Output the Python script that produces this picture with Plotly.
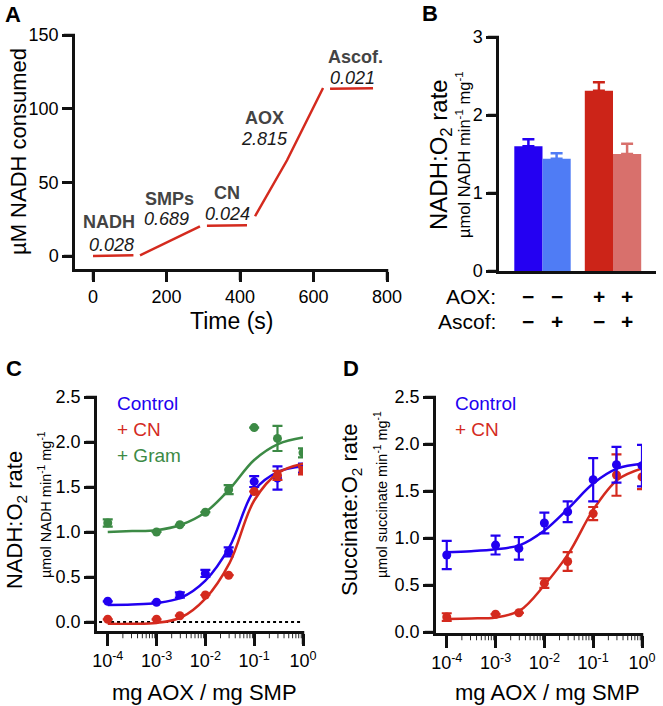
import math
import plotly.graph_objects as go

W, H = 663, 706
FONT = "Liberation Sans, Arial, sans-serif"

# ---------------- Panel A data ----------------
time_s = [0, 55, 110, None, 128, 210, 291, None, 310, 365, 419, None,
          441, 528, 626, None, 645, 700, 762]
nadh_consumed = [0.0, 0.2, 0.6, None, 0.5, 10.5, 20.2, None, 20.5, 20.8, 20.9, None,
                 27.0, 65.0, 114.0, None, 113.5, 113.8, 113.8]
step_names = ["NADH", "SMPs", "CN", "AOX", "Ascof."]
step_rates = ["0.028", "0.689", "0.024", "2.815", "0.021"]
a_xticks = [0, 200, 400, 600, 800]
a_yticks = [0, 50, 100, 150]

# ---------------- Panel B data ----------------
b_categories = ["AOX −", "AOX +"]
b_ascof_minus = [1.60, 2.31]
b_ascof_minus_err = [0.09, 0.11]
b_ascof_plus = [1.44, 1.50]
b_ascof_plus_err = [0.07, 0.13]
b_aox_signs = ["−", "−", "+", "+"]
b_ascof_signs = ["−", "+", "−", "+"]
b_yticks = [0, 1, 2, 3]

# ---------------- Panel C data ----------------
dose = [1e-4, 1e-3, 3e-3, 1e-2, 3e-2, 1e-1, 3e-1, 1.0]
c_control = [0.23, 0.22, 0.30, 0.54, 0.78, 1.56, 1.60, 1.71]
c_control_err = [0.0, 0.0, 0.03, 0.04, 0.05, 0.06, 0.13, 0.05]
c_cn = [0.03, 0.03, 0.07, 0.30, 0.52, 1.45, 1.63, 1.68]
c_cn_err = [0.0, 0.0, 0.0, 0.0, 0.0, 0.0, 0.05, 0.04]
c_gram = [1.10, 1.00, 1.08, 1.22, 1.47, 2.16, 2.04, 1.88]
c_gram_err = [0.04, 0.0, 0.0, 0.0, 0.05, 0.0, 0.14, 0.05]

fit_dose = [1e-4, 3.16e-4, 1e-3, 3.16e-3, 1e-2, 3.16e-2, 1e-1, 3.16e-1, 1.0]
c_control_fit = [0.19, 0.195, 0.21, 0.27, 0.46, 0.84, 1.46, 1.67, 1.73]
c_cn_fit = [-0.02, -0.02, -0.01, 0.05, 0.26, 0.66, 1.35, 1.66, 1.76]
c_gram_fit = [1.00, 1.01, 1.02, 1.08, 1.22, 1.48, 1.80, 1.98, 2.05]

# ---------------- Panel D data ----------------
d_control = [0.82, 0.925, 0.89, 1.16, 1.28, 1.62, 1.78, 1.77]
d_control_err = [0.15, 0.10, 0.12, 0.11, 0.11, 0.23, 0.19, 0.22]
d_cn = [0.16, 0.19, 0.205, 0.52, 0.75, 1.26, 1.67, 1.65]
d_cn_err = [0.04, 0.0, 0.0, 0.05, 0.10, 0.07, 0.22, 0.13]
d_control_fit = [0.85, 0.86, 0.88, 0.925, 1.08, 1.32, 1.58, 1.74, 1.79]
d_cn_fit = [0.14, 0.145, 0.155, 0.23, 0.50, 0.84, 1.30, 1.62, 1.74]

log_ticks = [1e-4, 1e-3, 1e-2, 1e-1, 1]
log_ticktext = ["10<sup>-4</sup>", "10<sup>-3</sup>", "10<sup>-2</sup>", "10<sup>-1</sup>", "10<sup>0</sup>"]
log_minor_ticks = [m * 10.0 ** e for e in range(-4, 0) for m in range(2, 10)]
rate_yticks = [0, 0.5, 1.0, 1.5, 2.0, 2.5]

BLUE = "#2200F0"
RED = "#D42A1E"
GREEN = "#3C8A45"
BAR_COLORS_MINUS = ["#2400F2", "#CC2418"]
BAR_COLORS_PLUS = ["#4F7CF5", "#D8706C"]
INK = "#111111"
LW = 2.5  # axis line thickness (px)

RANGE_A_X = [-49, 800]
RANGE_A_Y = [-8.8, 150]
RANGE_B_Y = [0, 3]
RANGE_LOG_X = [-4.22, 0]
RANGE_C_Y = [-0.1, 2.5]
RANGE_D_Y = [-0.01, 2.5]


def px(x):
    return x / W


def py(y):
    return 1 - y / H


fig = go.Figure()

fig.add_trace(go.Scatter(x=time_s, y=nadh_consumed, mode="lines", connectgaps=False,
                         line=dict(color=RED, width=2.5), xaxis="x", yaxis="y",
                         showlegend=False))

for group, vals, errs, cols in [("minus", b_ascof_minus, b_ascof_minus_err, BAR_COLORS_MINUS),
                                ("plus", b_ascof_plus, b_ascof_plus_err, BAR_COLORS_PLUS)]:
    for cat, v, e, c in zip(b_categories, vals, errs, cols):
        fig.add_trace(go.Bar(x=[cat], y=[v], offsetgroup=group,
                             marker=dict(color=c, line=dict(width=0)),
                             error_y=dict(type="data", symmetric=False, array=[e], arrayminus=[0],
                                          color=c, thickness=2.5, width=6),
                             xaxis="x2", yaxis="y2", showlegend=False))


def add_dose(xa, ya, y, err, fit, color):
    fig.add_trace(go.Scatter(x=fit_dose, y=fit, mode="lines", line=dict(color=color, width=2.5, shape="spline"),
                             xaxis=xa, yaxis=ya, showlegend=False))
    fig.add_trace(go.Scatter(x=dose, y=y, mode="markers",
                             marker=dict(color=color, size=9),
                             error_y=dict(type="data", array=err, color=color, thickness=2.2, width=5),
                             xaxis=xa, yaxis=ya, showlegend=False))


add_dose("x3", "y3", c_gram, c_gram_err, c_gram_fit, GREEN)
add_dose("x3", "y3", c_control, c_control_err, c_control_fit, BLUE)
add_dose("x3", "y3", c_cn, c_cn_err, c_cn_fit, RED)

add_dose("x4", "y4", d_cn, d_cn_err, d_cn_fit, RED)
add_dose("x4", "y4", d_control, d_control_err, d_control_fit, BLUE)

axis_common = dict(showline=True, linecolor=INK, linewidth=LW, ticks="outside",
                   tickcolor=INK, tickwidth=2.5, ticklen=10, showgrid=False, zeroline=False,
                   tickfont=dict(family=FONT, size=18, color="black"))

log_axis = dict(axis_common, type="log", tickmode="array", tickvals=log_ticks, ticktext=log_ticktext,
                ticklen=12)

BOX_A = (75, 35, 387, 269)
BOX_B = (499, 37, 656, 271)
BOX_C = (97, 397, 303, 631)
BOX_D = (436, 397, 642, 633)


def dom(box):
    l, t, r, b = box
    return [px(l), px(r)], [py(b), py(t)]


fig.update_layout(
    template="none",
    width=W, height=H, margin=dict(l=0, r=0, t=0, b=0, pad=0),
    paper_bgcolor="white", plot_bgcolor="white",
    font=dict(family=FONT, color="black"),
    barmode="group", bargap=0.2, bargroupgap=0,
    xaxis=dict(axis_common, domain=dom(BOX_A)[0], range=RANGE_A_X, anchor="y",
               tickmode="array", tickvals=a_xticks),
    yaxis=dict(axis_common, domain=dom(BOX_A)[1], range=RANGE_A_Y, anchor="x",
               tickmode="array", tickvals=a_yticks),
    xaxis2=dict(axis_common, domain=dom(BOX_B)[0], range=[-0.617, 1.61], anchor="y2",
                type="category", ticks="", showticklabels=False),
    yaxis2=dict(axis_common, domain=dom(BOX_B)[1], range=RANGE_B_Y, anchor="x2",
                tickmode="array", tickvals=b_yticks),
    xaxis3=dict(log_axis, domain=dom(BOX_C)[0], range=RANGE_LOG_X, anchor="y3"),
    yaxis3=dict(axis_common, domain=dom(BOX_C)[1], range=RANGE_C_Y, anchor="x3",
                tickmode="array", tickvals=rate_yticks, tickformat=".1f"),
    xaxis4=dict(log_axis, domain=dom(BOX_D)[0], range=RANGE_LOG_X, anchor="y4"),
    yaxis4=dict(axis_common, domain=dom(BOX_D)[1], range=RANGE_D_Y, anchor="x4",
                tickmode="array", tickvals=rate_yticks, tickformat=".1f"),
)

fig.add_shape(type="line", xref="x3 domain", yref="y3", x0=0.01, x1=1, y0=0, y1=0,
              line=dict(color="black", width=2, dash="dot"), layer="below")


# axis lines drawn as thin filled rectangles
def axis_lines(xa, ya, box):
    l, t, r, b = box
    hgt = b - t
    fig.add_shape(type="rect", xref=f"{xa} domain", yref=f"{ya} domain",
                  x0=0, x1=1, ysizemode="pixel", yanchor=0, y0=0, y1=-LW,
                  fillcolor=INK, line=dict(width=0), layer="below")
    fig.add_shape(type="rect", xref=f"{xa} domain", yref=f"{ya} domain",
                  xsizemode="pixel", xanchor=0, x0=0, x1=-LW, y0=-LW / hgt, y1=1,
                  fillcolor=INK, line=dict(width=0), layer="below")


axis_lines("x", "y", BOX_A)
axis_lines("x2", "y2", BOX_B)
axis_lines("x3", "y3", BOX_C)
axis_lines("x4", "y4", BOX_D)


def _ref(axis, val, rng, log):
    pos = math.log10(val) if log else val
    if abs(pos - rng[1]) < 1e-9:
        return f"{axis} domain", 1
    if abs(pos - rng[0]) < 1e-9:
        return f"{axis} domain", 0
    return axis, val


def xtick(xa, ya, val, rng, length, width, log=False):
    ref, x = _ref(xa, val, rng, log)
    fig.add_shape(type="rect", xref=ref, xsizemode="pixel", xanchor=x, x0=-width / 2, x1=width / 2,
                  yref=f"{ya} domain", ysizemode="pixel", yanchor=0, y0=0, y1=-(length + LW / 2),
                  fillcolor=INK, line=dict(width=0), layer="below")


def ytick(xa, ya, val, rng, length, width):
    ref, y = _ref(ya, val, rng, False)
    fig.add_shape(type="rect", yref=ref, ysizemode="pixel", yanchor=y, y0=-width / 2, y1=width / 2,
                  xref=f"{xa} domain", xsizemode="pixel", xanchor=0, x0=0, x1=-(length + LW / 2),
                  fillcolor=INK, line=dict(width=0), layer="below")


for v in a_xticks:
    xtick("x", "y", v, RANGE_A_X, 10, 2.5)
for v in a_yticks:
    ytick("x", "y", v, RANGE_A_Y, 10, 2.5)
for v in b_yticks:
    ytick("x2", "y2", v, RANGE_B_Y, 10, 2.5)
for xa, ya, yr in [("x3", "y3", RANGE_C_Y), ("x4", "y4", RANGE_D_Y)]:
    for v in log_ticks:
        xtick(xa, ya, v, RANGE_LOG_X, 12, 2.5, log=True)
    for v in log_minor_ticks:
        xtick(xa, ya, v, RANGE_LOG_X, 6, 1.8, log=True)
    for v in rate_yticks:
        ytick(xa, ya, v, yr, 10, 2.5)

ann = []


def text(x, y, t, size, bold=False, italic=False, color="black", angle=0, xanchor="center"):
    s = t
    if bold:
        s = "<b>" + s + "</b>"
    if italic:
        s = "<i>" + s + "</i>"
    ann.append(dict(x=px(x), y=py(y), xref="paper", yref="paper", text=s, showarrow=False,
                    font=dict(family=FONT, size=size, color=color), textangle=angle,
                    xanchor=xanchor, yanchor="middle"))


text(13, 14, "A", 22, bold=True)
text(430, 13, "B", 22, bold=True)
text(14, 369, "C", 22, bold=True)
text(351, 369, "D", 22, bold=True)

a_label_pos = [(44, 23), (207, 38.7), (365, 42.8), (468, 93.7), (713, 135)]
a_rate_pos = [(50, 7.8), (199, 25), (365, 28.5), (468, 79.4), (705, 121)]
for name, rate, (lx, ly), (rx, ry) in zip(step_names, step_rates, a_label_pos, a_rate_pos):
    ann.append(dict(x=lx, y=ly, xref="x", yref="y", text="<b>" + name + "</b>", showarrow=False,
                    font=dict(family=FONT, size=18, color="#444444")))
    ann.append(dict(x=rx, y=ry, xref="x", yref="y", text="<i>" + rate + "</i>", showarrow=False,
                    font=dict(family=FONT, size=18, color="#1a1a1a")))

text(18, 152, "µM NADH consumed", 22, angle=-90)
text(231, 321, "Time (s)", 23)

text(440, 155, "NADH:O<sub>2</sub> rate", 24, angle=-90)
text(463, 155, "µmol NADH min<sup>-1</sup> mg<sup>-1</sup>", 16.5, angle=-90)
text(498, 296, "AOX:", 21, xanchor="right")
text(498, 322, "Ascof:", 21, xanchor="right")
b_sign_x = [528, 556.5, 599, 627]
for sx, s1, s2 in zip(b_sign_x, b_aox_signs, b_ascof_signs):
    text(sx, 296, s1, 21, bold=True)
    text(sx, 322, s2, 21, bold=True)

text(16, 520, "NADH:O<sub>2</sub> rate", 22, angle=-90)
text(45, 505, "µmol NADH min<sup>-1</sup> mg<sup>-1</sup>", 14.5, angle=-90)
text(204, 692, "mg AOX / mg SMP", 22)
text(115, 403, "Control", 19, color=BLUE, xanchor="left")
text(115, 429, "+ CN", 19, color=RED, xanchor="left")
text(115, 455, "+ Gram", 19, color=GREEN, xanchor="left")

text(351, 510, "Succinate:O<sub>2</sub> rate", 22, angle=-90)
text(381, 494, "µmol succinate min<sup>-1</sup> mg<sup>-1</sup>", 14.5, angle=-90)
text(547, 692, "mg AOX / mg SMP", 22)
text(453, 403, "Control", 19, color=BLUE, xanchor="left")
text(453, 429, "+ CN", 19, color=RED, xanchor="left")

fig.update_layout(annotations=ann)

POST = """
document.body.style.margin = '0px';
"""

fig.write_html("out.html", post_script=POST, config={"displayModeBar": False})
